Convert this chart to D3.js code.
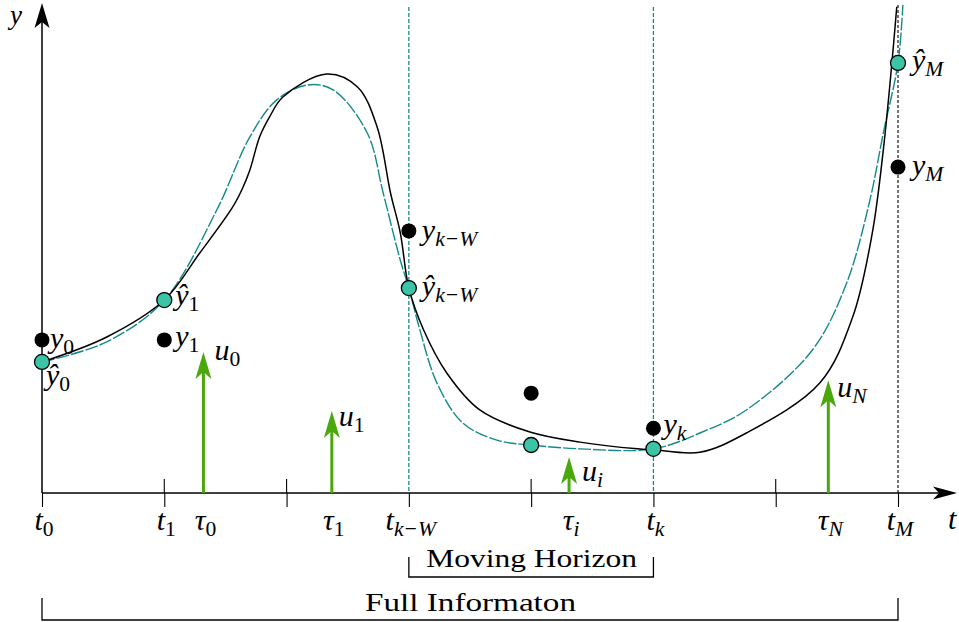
<!DOCTYPE html>
<html>
<head>
<meta charset="utf-8">
<script src="https://cdn.jsdelivr.net/npm/d3@7"></script>
<style>
  body { margin: 0; background: #fff; }
  text { font-family: "Liberation Serif", serif; fill: #000; }
  .math { font-style: italic; }
</style>
</head>
<body>
<script>
// time grid and tick labels
tTicks = [0, 1, 2, 3, 4, 5, 6, 7];
tLabelPos = [0, 1, 3, 5, 7];
tLabelSub = ["0", "1", "k\u2212W", "k", "M"];

// true trajectory (black)
trueT = [0, 0.53, 1.0, 1.29, 1.56, 1.64, 1.70, 1.78, 1.86, 1.97, 2.33, 2.58, 2.74, 2.85, 2.93, 3.0, 3.12, 3.31, 3.58, 3.99, 4.40, 4.87, 5.0, 5.38, 5.76, 6.36, 6.63, 6.79, 6.88, 6.95, 6.99];
trueY = [27.3, 32.5, 40.2, 50, 59.6, 63.5, 67.3, 74.2, 78.3, 82.5, 87.3, 84.6, 76.3, 62.5, 54.2, 42.7, 34.0, 25.0, 17.3, 12.7, 10.6, 9.2, 9.0, 8.5, 12.5, 22.9, 36.7, 54.2, 71.5, 89.6, 101.3];

// estimated trajectory (teal dashed)
estT = [0, 0.53, 1.0, 1.43, 1.70, 1.92, 2.17, 2.38, 2.66, 2.79, 2.93, 3.0, 3.09, 3.23, 3.44, 3.72, 4.0, 4.40, 5.0, 5.38, 5.76, 6.30, 6.58, 6.77, 6.88, 7.0, 7.04];
estY = [27.3, 31.5, 40.2, 59, 74.2, 81.9, 85, 84, 75, 62.5, 48.5, 42.7, 34, 22.9, 14.6, 11.0, 10.0, 9.2, 9.2, 12.5, 17.3, 29.8, 43.75, 61, 75, 89.6, 101.7];

// measurements y_i
measT = [0, 1, 3, 4, 5, 7];
measY = [31.9, 31.9, 54.6, 20.8, 13.5, 67.9];
measSub = ["0", "1", "k\u2212W", null, "k", "M"];

// estimates yhat_i
hatT = [0, 1, 3, 4, 5, 7];
hatY = [27.3, 40.2, 42.7, 10.0, 9.2, 89.6];
hatSub = ["0", "1", "k\u2212W", null, null, "M"];

// inputs u at tau
tau = [1.32, 2.37, 4.31, 6.43];
uVal = [29.4, 17.1, 7.5, 23.5];
uSub = ["0", "1", "i", "N"];

w = 959;
h = 622;

svg = d3.select("body").append("svg")
  .attr("width", w)
  .attr("height", h);

x = d3.scaleLinear().domain([0, 7]).range([42, 898]);
y = d3.scaleLinear().domain([0, 100]).range([493, 13]);

teal = "#148a8a";
tealFill = "#3cc4a6";
green = "#4aa80c";

// label helper: italic letter with optional subscript (digits upright)
function mathLabel(g, px, py, base, sub, anchor, size) {
  size = size || 30;
  var t = g.append("text")
    .attr("class", "math")
    .attr("x", px)
    .attr("y", py)
    .attr("font-size", size)
    .attr("text-anchor", anchor || "start");
  t.append("tspan").text(base);
  if (sub) {
    t.append("tspan")
      .attr("font-size", size * 0.72)
      .attr("dy", 6)
      .style("font-style", /^[0-9]+$/.test(sub) ? "normal" : "italic")
      .text(sub);
  }
  return t;
}

// vertical guides
[3, 5].forEach(function(v) {
  svg.append("line")
    .attr("x1", x(v)).attr("x2", x(v))
    .attr("y1", 7).attr("y2", y(0))
    .attr("stroke", teal)
    .attr("stroke-width", 1.3)
    .attr("stroke-dasharray", "4,2");
});
svg.append("line")
  .attr("x1", x(7)).attr("x2", x(7))
  .attr("y1", 5).attr("y2", y(0))
  .attr("stroke", "#000")
  .attr("stroke-width", 1.1)
  .attr("stroke-dasharray", "3,2");

// x axis ticks (down)
xAxis = svg.append("g")
  .attr("transform", "translate(0," + y(0) + ")")
  .call(d3.axisBottom(x).tickValues(tTicks).tickSize(14).tickFormat(""));
xAxis.select(".domain").remove();
xAxis.selectAll("line").attr("stroke", "#000").attr("stroke-width", 1.1);

// up ticks
svg.selectAll(".uptick")
  .data(tTicks.filter(function(d) { return [1, 2, 4, 6].indexOf(d) >= 0; }))
  .enter().append("line")
    .attr("x1", function(d) { return x(d); })
    .attr("x2", function(d) { return x(d); })
    .attr("y1", y(0) - 14).attr("y2", y(0))
    .attr("stroke", "#000").attr("stroke-width", 1.1);

// axis lines with stealth heads
svg.append("line")
  .attr("x1", x(0)).attr("x2", 945)
  .attr("y1", y(0)).attr("y2", y(0))
  .attr("stroke", "#000").attr("stroke-width", 1.5);
svg.append("path")
  .attr("d", "M957," + y(0) + " L933," + (y(0) - 6.5) + " L939," + y(0) + " L933," + (y(0) + 6.5) + " Z")
  .attr("fill", "#000");
svg.append("line")
  .attr("x1", x(0)).attr("x2", x(0))
  .attr("y1", y(0)).attr("y2", 20)
  .attr("stroke", "#000").attr("stroke-width", 1.5);
svg.append("path")
  .attr("d", "M" + x(0) + ",3 L" + (x(0) - 7.5) + ",28 L" + x(0) + ",22 L" + (x(0) + 7.5) + ",28 Z")
  .attr("fill", "#000");

// curves
line = d3.line()
  .x(function(d) { return x(d[0]); })
  .y(function(d) { return y(d[1]); })
  .curve(d3.curveCatmullRom.alpha(0.5));

svg.append("path")
  .datum(d3.zip(estT, estY))
  .attr("d", line)
  .attr("fill", "none")
  .attr("stroke", teal)
  .attr("stroke-width", 1.4)
  .attr("stroke-dasharray", "13,2");

svg.append("path")
  .datum(d3.zip(trueT, trueY))
  .attr("d", line)
  .attr("fill", "none")
  .attr("stroke", "#000")
  .attr("stroke-width", 1.5);

// input arrows
tau.forEach(function(tv, i) {
  var px = x(tv), tip = y(uVal[i]);
  svg.append("line")
    .attr("x1", px).attr("x2", px)
    .attr("y1", y(0)).attr("y2", tip + 18)
    .attr("stroke", green).attr("stroke-width", 3);
  svg.append("path")
    .attr("d", "M" + px + "," + tip + " L" + (px - 8) + "," + (tip + 27) + " L" + px + "," + (tip + 20) + " L" + (px + 8) + "," + (tip + 27) + " Z")
    .attr("fill", green);
});

// points
svg.selectAll(".meas")
  .data(d3.zip(measT, measY))
  .enter().append("circle")
    .attr("cx", function(d) { return x(d[0]); })
    .attr("cy", function(d) { return y(d[1]); })
    .attr("r", 7.5)
    .attr("fill", "#000");

svg.selectAll(".hat")
  .data(d3.zip(hatT, hatY))
  .enter().append("circle")
    .attr("cx", function(d) { return x(d[0]); })
    .attr("cy", function(d) { return y(d[1]); })
    .attr("r", 7.5)
    .attr("fill", tealFill)
    .attr("stroke", "#000")
    .attr("stroke-width", 1.3);

labels = svg.append("g");

// measurement labels
measOff = [[8, 8], [11, 6], [13, 9], null, [10, 6], [14, 8]];
measT.forEach(function(tv, i) {
  if (!measSub[i]) return;
  mathLabel(labels, x(tv) + measOff[i][0], y(measY[i]) + measOff[i][1], "y", measSub[i]);
});

// estimate labels
hatOff = [[4, 23], [11, 5], [13, 8], null, null, [14, 7]];
hatT.forEach(function(tv, i) {
  if (!hatSub[i]) return;
  mathLabel(labels, x(tv) + hatOff[i][0], y(hatY[i]) + hatOff[i][1], "\u0177", hatSub[i]);
});

// input labels
uOff = [[11, 8], [7, 15], [13, 24], [9, 17]];
tau.forEach(function(tv, i) {
  mathLabel(labels, x(tv) + uOff[i][0], y(uVal[i]) + uOff[i][1], "u", uSub[i]);
  mathLabel(labels, x(tv) + 2, 530, "\u03c4", uSub[i], "middle");
});

// time labels
tLabelPos.forEach(function(tv, i) {
  mathLabel(labels, x(tv) + 2, 530, "t", tLabelSub[i], "middle");
});

mathLabel(labels, 10, 24, "y", null, "start", 27);
mathLabel(labels, 948, 529, "t");

// horizon brackets
function bracket(t0, t1, top, bottom, txt, baseY) {
  svg.append("path")
    .attr("d", "M" + x(t0) + "," + top + " V" + bottom + " H" + x(t1) + " V" + top)
    .attr("fill", "none")
    .attr("stroke", "#000")
    .attr("stroke-width", 1.3);
  svg.append("text")
    .attr("x", (x(t0) + x(t1)) / 2 + 0.5)
    .attr("y", baseY)
    .attr("font-size", 26)
    .attr("text-anchor", "middle")
    .attr("textLength", 211)
    .attr("lengthAdjust", "spacingAndGlyphs")
    .text(txt);
}
bracket(3, 5, 557, 577, "Moving Horizon", 567);
bracket(0, 7, 598, 620, "Full Informaton", 611);
</script>
</body>
</html>
